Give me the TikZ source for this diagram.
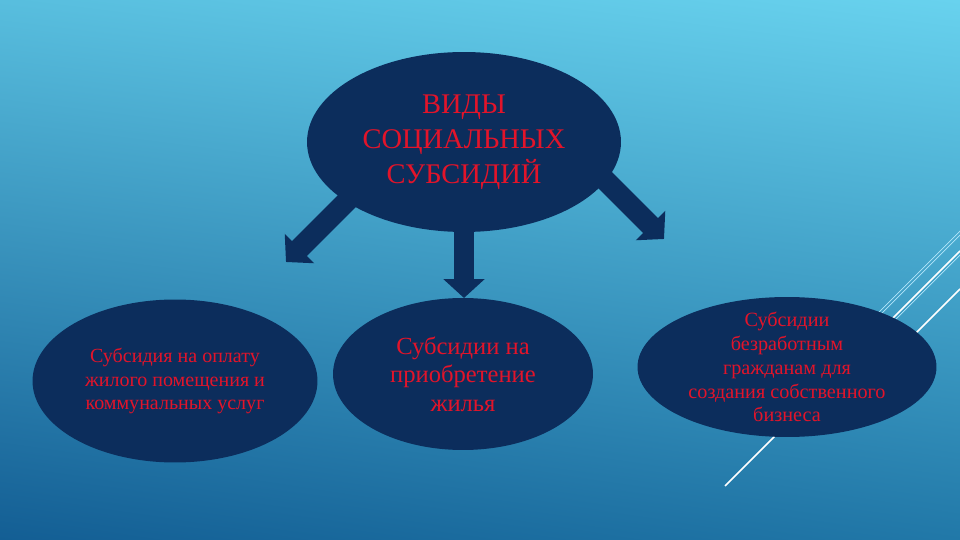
\documentclass[tikz,border=0pt]{standalone}
\usepackage{fontspec}
\setmainfont{Liberation Serif}
\usepackage{tikz}
\usetikzlibrary{shapes.geometric,
	shadings,
	arrows.meta,
	positioning}
\definecolor{bgtl}{RGB}{88,190,222}
\definecolor{bgtr}{RGB}{104,210,238}
\definecolor{bgbl}{RGB}{19,94,148}
\definecolor{bgbr}{RGB}{33,120,168}
\definecolor{navy}{RGB}{12,45,92}
\definecolor{subred}{RGB}{226,20,42}
\tikzstyle{bubble}=[ellipse, fill=navy, inner sep=0, text=subred, align=center]
\tikzstyle{blockarrow}=[draw=navy, line width=11.9pt, -{Triangle[length=10.8pt, width=23pt]}, navy]
\tikzstyle{deco}=[white, line width=0.9pt]
\tikzstyle{decothin}=[white!70!cyan, line width=0.4pt]

\begin{document}
\begin{tikzpicture}[x=0.02cm, y=-0.02cm]
            % background
            \shade[upper left=bgtl, upper right=bgtr, lower left=bgbl, lower right=bgbr] (0,0) rectangle (960,540);
            \useasboundingbox (0,0) rectangle (960,540);
            % theme lines
            \draw[deco] (725,486) -- (960,251);
            \draw[decothin] (870,321) -- (960,231);
            \draw[decothin] (872,323) -- (960,235);
            \draw[decothin] (880,335) -- (960,255);
            \draw[deco] (900,349) -- (960,289);
            % arrows
            \coordinate (ls) at (356,192);
            \coordinate (lt) at (286,262);
            \coordinate (ms) at (464,200);
            \coordinate (mt) at (464,298);
            \coordinate (rs) at (594,169);
            \coordinate (rt) at (664,239);
            \draw[blockarrow] (ls) -- (lt);
            \draw[blockarrow] (ms) -- (mt);
            \draw[blockarrow] (rs) -- (rt);
            % ellipses
            \node[bubble, minimum width=6.28cm, minimum height=3.6cm, font=\fontsize{16.2}{19.8}\selectfont] (types) at (464,142) {ВИДЫ\\СОЦИАЛЬНЫХ\\СУБСИДИЙ};
            \node[bubble, minimum width=5.7cm, minimum height=3.26cm, font=\fontsize{11.4}{13.3}\selectfont] (housing) at (175,381) {Субсидия на оплату\\жилого помещения и\\коммунальных услуг};
            \node[bubble, minimum width=5.2cm, minimum height=3.04cm, font=\fontsize{14}{16.2}\selectfont] (purchase) at (463,374) {Субсидии на\\приобретение\\жилья};
            \node[bubble, inner ysep=-7pt, minimum width=5.98cm, minimum height=2.8cm, font=\fontsize{11.5}{13.6}\selectfont] (business) at (787,367) {Субсидии\\безработным\\гражданам для\\создания собственного\\бизнеса};
        \end{tikzpicture}
\end{document}
